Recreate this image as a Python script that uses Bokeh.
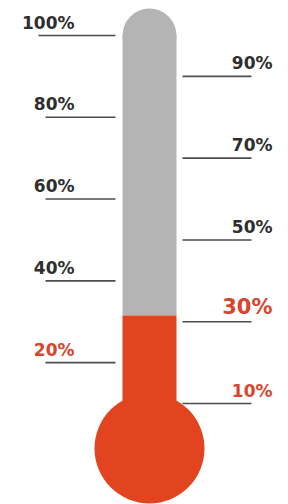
from bokeh.plotting import figure
from bokeh.models import Range1d, ColumnDataSource
from bokeh.core.properties import value
from bokeh.embed import file_html
from bokeh.resources import INLINE

# ---- data ----
left_ticks = [100, 80, 60, 40, 20]
left_labels = ["100%", "80%", "60%", "40%", "20%"]
right_ticks = [90, 70, 50, 30, 10]
right_labels = ["90%", "70%", "50%", "30%", "10%"]
fill_value = 31.5          # level of the red column (percent)
scale_max = 100            # top of the gray tube
highlight = [20, 30, 10]   # labels drawn in red
big_label = 30             # label drawn larger

# ---- styles ----
GRAY = "#b4b4b4"
RED = "#e2441f"
RED_TEXT = "#d8452f"
DARK = "#2e2e2e"
LINE = "#4d4d4d"
FONT = value("DejaVu Sans")

W, H = 288, 504
PX_PER_PCT = 4.089
y_top = 100 + 35 / PX_PER_PCT
y_bot = 10 - (H - 403) / PX_PER_PCT

p = figure(width=W, height=H, output_backend="svg", toolbar_location=None,
           x_range=Range1d(-149, W - 149), y_range=Range1d(y_bot, y_top),
           x_axis_location=None, y_axis_location=None, min_border=0,
           background_fill_color="white", border_fill_color="white")
p.outline_line_color = None
p.xgrid.visible = False
p.ygrid.visible = False

half_w = 27
bulb_r = 55
bulb_y = -1

# gray tube with rounded top
p.quad(left=[-half_w], right=[half_w], bottom=[fill_value], top=[scale_max],
       fill_color=GRAY, line_color=None)
p.circle(x=[0], y=[scale_max], radius=half_w, radius_dimension="x",
         fill_color=GRAY, line_color=None)

# red column and bulb
p.quad(left=[-half_w], right=[half_w], bottom=[bulb_y], top=[fill_value],
       fill_color=RED, line_color=None)
p.circle(x=[0], y=[bulb_y], radius=bulb_r, radius_dimension="x",
         fill_color=RED, line_color=None)

# tick lines
p.segment(x0=[-111 if t == scale_max else -104 for t in left_ticks],
          x1=[-34] * len(left_ticks),
          y0=left_ticks, y1=left_ticks, line_color=LINE, line_width=1.6)
p.segment(x0=[33] * len(right_ticks), x1=[102] * len(right_ticks),
          y0=right_ticks, y1=right_ticks, line_color=LINE, line_width=1.6)

def label_src(ticks, labels, xpos):
    sizes = [21 if t == big_label else 17 for t in ticks]
    lifts = [(5.5 + 0.44 * s) / PX_PER_PCT for s in sizes]
    return ColumnDataSource(dict(
        x=[xpos] * len(ticks), y=[t + l for t, l in zip(ticks, lifts)], text=labels,
        color=[RED_TEXT if t in highlight else DARK for t in ticks],
        size=[f"{s}px" for s in sizes],
    ))

for ticks, labels, xpos in [(left_ticks, left_labels, -75), (right_ticks, right_labels, 123)]:
    p.text(x="x", y="y", text="text", source=label_src(ticks, labels, xpos),
           text_align="right", text_baseline="alphabetic",
           text_font=FONT, text_font_style="bold",
           text_color="color", text_font_size="size")

open("out.html", "w").write(file_html(p, INLINE))
